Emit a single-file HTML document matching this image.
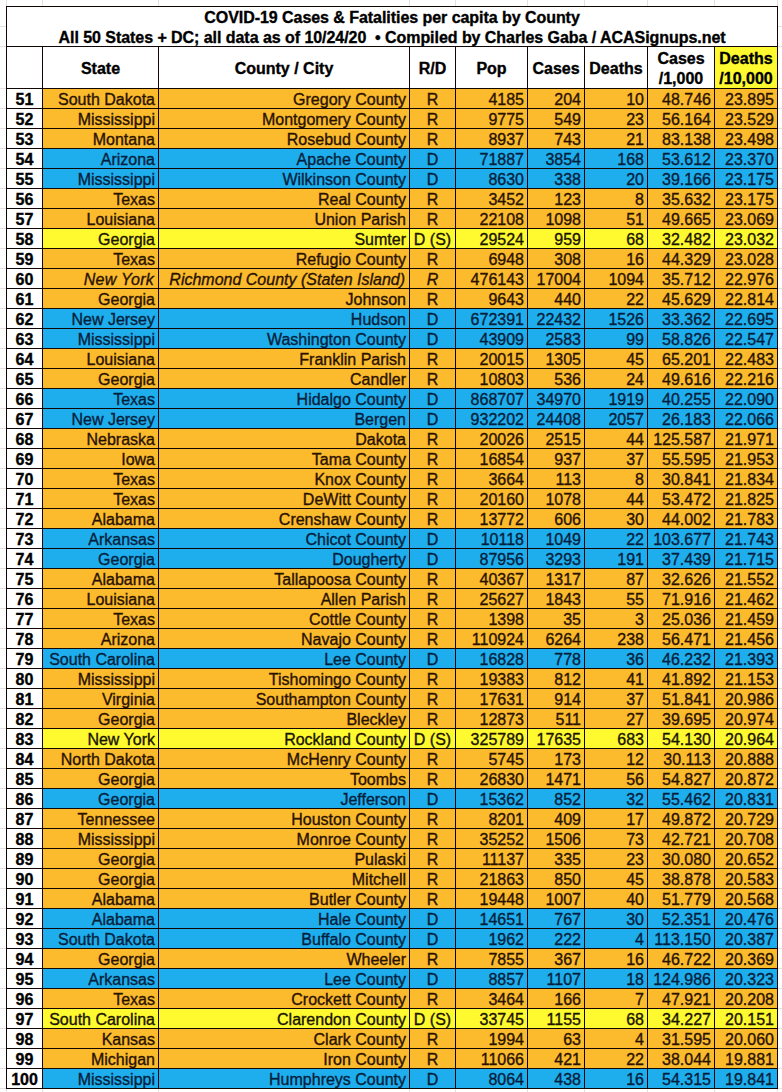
<!DOCTYPE html><html><head><meta charset="utf-8"><style>
html,body{margin:0;padding:0;}
body{width:782px;height:1092px;position:relative;overflow:hidden;background:#fff;font-family:"Liberation Sans",sans-serif;}
div{position:absolute;}
.g{background:#e2e2e2;}
.l{background:#120604;}
.t{height:20px;line-height:20px;white-space:nowrap;font-size:16px;letter-spacing:0px;-webkit-text-stroke:0.35px currentColor;}
.r{text-align:right;}.c{text-align:center;}
.b{font-weight:bold;font-size:16px;-webkit-text-stroke:0.35px currentColor;}
.i{font-style:italic;}
</style></head><body>
<div class="g" style="left:6px;top:0;width:1px;height:6px"></div>
<div class="g" style="left:6px;top:1089px;width:1px;height:3px"></div>
<div class="g" style="left:42px;top:0;width:1px;height:6px"></div>
<div class="g" style="left:42px;top:1089px;width:1px;height:3px"></div>
<div class="g" style="left:158px;top:0;width:1px;height:6px"></div>
<div class="g" style="left:158px;top:1089px;width:1px;height:3px"></div>
<div class="g" style="left:409px;top:0;width:1px;height:6px"></div>
<div class="g" style="left:409px;top:1089px;width:1px;height:3px"></div>
<div class="g" style="left:455px;top:0;width:1px;height:6px"></div>
<div class="g" style="left:455px;top:1089px;width:1px;height:3px"></div>
<div class="g" style="left:527px;top:0;width:1px;height:6px"></div>
<div class="g" style="left:527px;top:1089px;width:1px;height:3px"></div>
<div class="g" style="left:584px;top:0;width:1px;height:6px"></div>
<div class="g" style="left:584px;top:1089px;width:1px;height:3px"></div>
<div class="g" style="left:647px;top:0;width:1px;height:6px"></div>
<div class="g" style="left:647px;top:1089px;width:1px;height:3px"></div>
<div class="g" style="left:714px;top:0;width:1px;height:6px"></div>
<div class="g" style="left:714px;top:1089px;width:1px;height:3px"></div>
<div class="g" style="left:777px;top:0;width:1px;height:6px"></div>
<div class="g" style="left:777px;top:1089px;width:1px;height:3px"></div>
<div class="g" style="left:900px;top:0;width:1px;height:1092px"></div>
<div class="g" style="left:0;top:-10px;width:6px;height:1px"></div>
<div class="g" style="left:778px;top:-10px;width:4px;height:1px"></div>
<div class="g" style="left:0;top:26px;width:6px;height:1px"></div>
<div class="g" style="left:778px;top:26px;width:4px;height:1px"></div>
<div class="g" style="left:0;top:46px;width:6px;height:1px"></div>
<div class="g" style="left:778px;top:46px;width:4px;height:1px"></div>
<div class="g" style="left:0;top:88px;width:6px;height:1px"></div>
<div class="g" style="left:778px;top:88px;width:4px;height:1px"></div>
<div class="g" style="left:0;top:108px;width:6px;height:1px"></div>
<div class="g" style="left:778px;top:108px;width:4px;height:1px"></div>
<div class="g" style="left:0;top:128px;width:6px;height:1px"></div>
<div class="g" style="left:778px;top:128px;width:4px;height:1px"></div>
<div class="g" style="left:0;top:148px;width:6px;height:1px"></div>
<div class="g" style="left:778px;top:148px;width:4px;height:1px"></div>
<div class="g" style="left:0;top:168px;width:6px;height:1px"></div>
<div class="g" style="left:778px;top:168px;width:4px;height:1px"></div>
<div class="g" style="left:0;top:188px;width:6px;height:1px"></div>
<div class="g" style="left:778px;top:188px;width:4px;height:1px"></div>
<div class="g" style="left:0;top:208px;width:6px;height:1px"></div>
<div class="g" style="left:778px;top:208px;width:4px;height:1px"></div>
<div class="g" style="left:0;top:228px;width:6px;height:1px"></div>
<div class="g" style="left:778px;top:228px;width:4px;height:1px"></div>
<div class="g" style="left:0;top:248px;width:6px;height:1px"></div>
<div class="g" style="left:778px;top:248px;width:4px;height:1px"></div>
<div class="g" style="left:0;top:268px;width:6px;height:1px"></div>
<div class="g" style="left:778px;top:268px;width:4px;height:1px"></div>
<div class="g" style="left:0;top:288px;width:6px;height:1px"></div>
<div class="g" style="left:778px;top:288px;width:4px;height:1px"></div>
<div class="g" style="left:0;top:308px;width:6px;height:1px"></div>
<div class="g" style="left:778px;top:308px;width:4px;height:1px"></div>
<div class="g" style="left:0;top:328px;width:6px;height:1px"></div>
<div class="g" style="left:778px;top:328px;width:4px;height:1px"></div>
<div class="g" style="left:0;top:348px;width:6px;height:1px"></div>
<div class="g" style="left:778px;top:348px;width:4px;height:1px"></div>
<div class="g" style="left:0;top:368px;width:6px;height:1px"></div>
<div class="g" style="left:778px;top:368px;width:4px;height:1px"></div>
<div class="g" style="left:0;top:388px;width:6px;height:1px"></div>
<div class="g" style="left:778px;top:388px;width:4px;height:1px"></div>
<div class="g" style="left:0;top:408px;width:6px;height:1px"></div>
<div class="g" style="left:778px;top:408px;width:4px;height:1px"></div>
<div class="g" style="left:0;top:428px;width:6px;height:1px"></div>
<div class="g" style="left:778px;top:428px;width:4px;height:1px"></div>
<div class="g" style="left:0;top:448px;width:6px;height:1px"></div>
<div class="g" style="left:778px;top:448px;width:4px;height:1px"></div>
<div class="g" style="left:0;top:468px;width:6px;height:1px"></div>
<div class="g" style="left:778px;top:468px;width:4px;height:1px"></div>
<div class="g" style="left:0;top:488px;width:6px;height:1px"></div>
<div class="g" style="left:778px;top:488px;width:4px;height:1px"></div>
<div class="g" style="left:0;top:508px;width:6px;height:1px"></div>
<div class="g" style="left:778px;top:508px;width:4px;height:1px"></div>
<div class="g" style="left:0;top:528px;width:6px;height:1px"></div>
<div class="g" style="left:778px;top:528px;width:4px;height:1px"></div>
<div class="g" style="left:0;top:548px;width:6px;height:1px"></div>
<div class="g" style="left:778px;top:548px;width:4px;height:1px"></div>
<div class="g" style="left:0;top:568px;width:6px;height:1px"></div>
<div class="g" style="left:778px;top:568px;width:4px;height:1px"></div>
<div class="g" style="left:0;top:588px;width:6px;height:1px"></div>
<div class="g" style="left:778px;top:588px;width:4px;height:1px"></div>
<div class="g" style="left:0;top:608px;width:6px;height:1px"></div>
<div class="g" style="left:778px;top:608px;width:4px;height:1px"></div>
<div class="g" style="left:0;top:628px;width:6px;height:1px"></div>
<div class="g" style="left:778px;top:628px;width:4px;height:1px"></div>
<div class="g" style="left:0;top:648px;width:6px;height:1px"></div>
<div class="g" style="left:778px;top:648px;width:4px;height:1px"></div>
<div class="g" style="left:0;top:668px;width:6px;height:1px"></div>
<div class="g" style="left:778px;top:668px;width:4px;height:1px"></div>
<div class="g" style="left:0;top:688px;width:6px;height:1px"></div>
<div class="g" style="left:778px;top:688px;width:4px;height:1px"></div>
<div class="g" style="left:0;top:708px;width:6px;height:1px"></div>
<div class="g" style="left:778px;top:708px;width:4px;height:1px"></div>
<div class="g" style="left:0;top:728px;width:6px;height:1px"></div>
<div class="g" style="left:778px;top:728px;width:4px;height:1px"></div>
<div class="g" style="left:0;top:748px;width:6px;height:1px"></div>
<div class="g" style="left:778px;top:748px;width:4px;height:1px"></div>
<div class="g" style="left:0;top:768px;width:6px;height:1px"></div>
<div class="g" style="left:778px;top:768px;width:4px;height:1px"></div>
<div class="g" style="left:0;top:788px;width:6px;height:1px"></div>
<div class="g" style="left:778px;top:788px;width:4px;height:1px"></div>
<div class="g" style="left:0;top:808px;width:6px;height:1px"></div>
<div class="g" style="left:778px;top:808px;width:4px;height:1px"></div>
<div class="g" style="left:0;top:828px;width:6px;height:1px"></div>
<div class="g" style="left:778px;top:828px;width:4px;height:1px"></div>
<div class="g" style="left:0;top:848px;width:6px;height:1px"></div>
<div class="g" style="left:778px;top:848px;width:4px;height:1px"></div>
<div class="g" style="left:0;top:868px;width:6px;height:1px"></div>
<div class="g" style="left:778px;top:868px;width:4px;height:1px"></div>
<div class="g" style="left:0;top:888px;width:6px;height:1px"></div>
<div class="g" style="left:778px;top:888px;width:4px;height:1px"></div>
<div class="g" style="left:0;top:908px;width:6px;height:1px"></div>
<div class="g" style="left:778px;top:908px;width:4px;height:1px"></div>
<div class="g" style="left:0;top:928px;width:6px;height:1px"></div>
<div class="g" style="left:778px;top:928px;width:4px;height:1px"></div>
<div class="g" style="left:0;top:948px;width:6px;height:1px"></div>
<div class="g" style="left:778px;top:948px;width:4px;height:1px"></div>
<div class="g" style="left:0;top:968px;width:6px;height:1px"></div>
<div class="g" style="left:778px;top:968px;width:4px;height:1px"></div>
<div class="g" style="left:0;top:988px;width:6px;height:1px"></div>
<div class="g" style="left:778px;top:988px;width:4px;height:1px"></div>
<div class="g" style="left:0;top:1008px;width:6px;height:1px"></div>
<div class="g" style="left:778px;top:1008px;width:4px;height:1px"></div>
<div class="g" style="left:0;top:1028px;width:6px;height:1px"></div>
<div class="g" style="left:778px;top:1028px;width:4px;height:1px"></div>
<div class="g" style="left:0;top:1048px;width:6px;height:1px"></div>
<div class="g" style="left:778px;top:1048px;width:4px;height:1px"></div>
<div class="g" style="left:0;top:1068px;width:6px;height:1px"></div>
<div class="g" style="left:778px;top:1068px;width:4px;height:1px"></div>
<div class="g" style="left:0;top:1088px;width:6px;height:1px"></div>
<div class="g" style="left:778px;top:1088px;width:4px;height:1px"></div>
<div class="b" style="left:7px;top:8px;width:770px;text-align:center;line-height:20px;font-size:16px;letter-spacing:-0.05px;color:#000">COVID-19 Cases &amp; Fatalities per capita by County<br>All 50 States + DC; all data as of 10/24/20 &nbsp;• Compiled by Charles Gaba / ACASignups.net</div>
<div style="left:715px;top:47px;width:62px;height:41px;background:#fffa30"></div>
<div class="t b c" style="left:43px;top:59px;width:115px;color:#000">State</div>
<div class="t b c" style="left:159px;top:59px;width:250px;color:#000">County / City</div>
<div class="t b c" style="left:410px;top:59px;width:45px;color:#000">R/D</div>
<div class="t b c" style="left:456px;top:59px;width:71px;color:#000">Pop</div>
<div class="t b c" style="left:528px;top:59px;width:56px;color:#000">Cases</div>
<div class="t b c" style="left:585px;top:59px;width:62px;color:#000">Deaths</div>
<div class="t b c" style="left:648px;top:49px;width:66px;color:#000">Cases</div>
<div class="t b c" style="left:648px;top:69px;width:66px;color:#000">/1,000</div>
<div class="t b c" style="left:715px;top:49px;width:62px;color:#000">Deaths</div>
<div class="t b c" style="left:715px;top:69px;width:62px;color:#000">/10,000</div>
<div style="left:43px;top:89px;width:734px;height:19px;background:#fcbb2d"></div>
<div class="t b c" style="left:7px;top:90px;width:35px;color:#000">51</div>
<div class="t r" style="left:43px;top:90px;width:112px;color:#2a1200">South Dakota</div>
<div class="t r" style="left:159px;top:90px;width:247px;color:#2a1200">Gregory County</div>
<div class="t c" style="left:410px;top:90px;width:45px;color:#2a1200">R</div>
<div class="t r" style="left:456px;top:90px;width:68px;color:#2a1200">4185</div>
<div class="t r" style="left:528px;top:90px;width:53px;color:#2a1200">204</div>
<div class="t r" style="left:585px;top:90px;width:59px;color:#2a1200">10</div>
<div class="t r" style="left:648px;top:90px;width:63px;color:#2a1200">48.746</div>
<div class="t r" style="left:715px;top:90px;width:59px;color:#2a1200">23.895</div>
<div style="left:43px;top:109px;width:734px;height:19px;background:#fcbb2d"></div>
<div class="t b c" style="left:7px;top:110px;width:35px;color:#000">52</div>
<div class="t r" style="left:43px;top:110px;width:112px;color:#2a1200">Mississippi</div>
<div class="t r" style="left:159px;top:110px;width:247px;color:#2a1200">Montgomery County</div>
<div class="t c" style="left:410px;top:110px;width:45px;color:#2a1200">R</div>
<div class="t r" style="left:456px;top:110px;width:68px;color:#2a1200">9775</div>
<div class="t r" style="left:528px;top:110px;width:53px;color:#2a1200">549</div>
<div class="t r" style="left:585px;top:110px;width:59px;color:#2a1200">23</div>
<div class="t r" style="left:648px;top:110px;width:63px;color:#2a1200">56.164</div>
<div class="t r" style="left:715px;top:110px;width:59px;color:#2a1200">23.529</div>
<div style="left:43px;top:129px;width:734px;height:19px;background:#fcbb2d"></div>
<div class="t b c" style="left:7px;top:130px;width:35px;color:#000">53</div>
<div class="t r" style="left:43px;top:130px;width:112px;color:#2a1200">Montana</div>
<div class="t r" style="left:159px;top:130px;width:247px;color:#2a1200">Rosebud County</div>
<div class="t c" style="left:410px;top:130px;width:45px;color:#2a1200">R</div>
<div class="t r" style="left:456px;top:130px;width:68px;color:#2a1200">8937</div>
<div class="t r" style="left:528px;top:130px;width:53px;color:#2a1200">743</div>
<div class="t r" style="left:585px;top:130px;width:59px;color:#2a1200">21</div>
<div class="t r" style="left:648px;top:130px;width:63px;color:#2a1200">83.138</div>
<div class="t r" style="left:715px;top:130px;width:59px;color:#2a1200">23.498</div>
<div style="left:43px;top:149px;width:734px;height:19px;background:#1eaeee"></div>
<div class="t b c" style="left:7px;top:150px;width:35px;color:#000">54</div>
<div class="t r" style="left:43px;top:150px;width:112px;color:#041e3c">Arizona</div>
<div class="t r" style="left:159px;top:150px;width:247px;color:#041e3c">Apache County</div>
<div class="t c" style="left:410px;top:150px;width:45px;color:#041e3c">D</div>
<div class="t r" style="left:456px;top:150px;width:68px;color:#041e3c">71887</div>
<div class="t r" style="left:528px;top:150px;width:53px;color:#041e3c">3854</div>
<div class="t r" style="left:585px;top:150px;width:59px;color:#041e3c">168</div>
<div class="t r" style="left:648px;top:150px;width:63px;color:#041e3c">53.612</div>
<div class="t r" style="left:715px;top:150px;width:59px;color:#041e3c">23.370</div>
<div style="left:43px;top:169px;width:734px;height:19px;background:#1eaeee"></div>
<div class="t b c" style="left:7px;top:170px;width:35px;color:#000">55</div>
<div class="t r" style="left:43px;top:170px;width:112px;color:#041e3c">Mississippi</div>
<div class="t r" style="left:159px;top:170px;width:247px;color:#041e3c">Wilkinson County</div>
<div class="t c" style="left:410px;top:170px;width:45px;color:#041e3c">D</div>
<div class="t r" style="left:456px;top:170px;width:68px;color:#041e3c">8630</div>
<div class="t r" style="left:528px;top:170px;width:53px;color:#041e3c">338</div>
<div class="t r" style="left:585px;top:170px;width:59px;color:#041e3c">20</div>
<div class="t r" style="left:648px;top:170px;width:63px;color:#041e3c">39.166</div>
<div class="t r" style="left:715px;top:170px;width:59px;color:#041e3c">23.175</div>
<div style="left:43px;top:189px;width:734px;height:19px;background:#fcbb2d"></div>
<div class="t b c" style="left:7px;top:190px;width:35px;color:#000">56</div>
<div class="t r" style="left:43px;top:190px;width:112px;color:#2a1200">Texas</div>
<div class="t r" style="left:159px;top:190px;width:247px;color:#2a1200">Real County</div>
<div class="t c" style="left:410px;top:190px;width:45px;color:#2a1200">R</div>
<div class="t r" style="left:456px;top:190px;width:68px;color:#2a1200">3452</div>
<div class="t r" style="left:528px;top:190px;width:53px;color:#2a1200">123</div>
<div class="t r" style="left:585px;top:190px;width:59px;color:#2a1200">8</div>
<div class="t r" style="left:648px;top:190px;width:63px;color:#2a1200">35.632</div>
<div class="t r" style="left:715px;top:190px;width:59px;color:#2a1200">23.175</div>
<div style="left:43px;top:209px;width:734px;height:19px;background:#fcbb2d"></div>
<div class="t b c" style="left:7px;top:210px;width:35px;color:#000">57</div>
<div class="t r" style="left:43px;top:210px;width:112px;color:#2a1200">Louisiana</div>
<div class="t r" style="left:159px;top:210px;width:247px;color:#2a1200">Union Parish</div>
<div class="t c" style="left:410px;top:210px;width:45px;color:#2a1200">R</div>
<div class="t r" style="left:456px;top:210px;width:68px;color:#2a1200">22108</div>
<div class="t r" style="left:528px;top:210px;width:53px;color:#2a1200">1098</div>
<div class="t r" style="left:585px;top:210px;width:59px;color:#2a1200">51</div>
<div class="t r" style="left:648px;top:210px;width:63px;color:#2a1200">49.665</div>
<div class="t r" style="left:715px;top:210px;width:59px;color:#2a1200">23.069</div>
<div style="left:43px;top:229px;width:734px;height:19px;background:#fffa30"></div>
<div class="t b c" style="left:7px;top:230px;width:35px;color:#000">58</div>
<div class="t r" style="left:43px;top:230px;width:112px;color:#1a1400">Georgia</div>
<div class="t r" style="left:159px;top:230px;width:247px;color:#1a1400">Sumter</div>
<div class="t c" style="left:410px;top:230px;width:45px;color:#1a1400">D (S)</div>
<div class="t r" style="left:456px;top:230px;width:68px;color:#1a1400">29524</div>
<div class="t r" style="left:528px;top:230px;width:53px;color:#1a1400">959</div>
<div class="t r" style="left:585px;top:230px;width:59px;color:#1a1400">68</div>
<div class="t r" style="left:648px;top:230px;width:63px;color:#1a1400">32.482</div>
<div class="t r" style="left:715px;top:230px;width:59px;color:#1a1400">23.032</div>
<div style="left:43px;top:249px;width:734px;height:19px;background:#fcbb2d"></div>
<div class="t b c" style="left:7px;top:250px;width:35px;color:#000">59</div>
<div class="t r" style="left:43px;top:250px;width:112px;color:#2a1200">Texas</div>
<div class="t r" style="left:159px;top:250px;width:247px;color:#2a1200">Refugio County</div>
<div class="t c" style="left:410px;top:250px;width:45px;color:#2a1200">R</div>
<div class="t r" style="left:456px;top:250px;width:68px;color:#2a1200">6948</div>
<div class="t r" style="left:528px;top:250px;width:53px;color:#2a1200">308</div>
<div class="t r" style="left:585px;top:250px;width:59px;color:#2a1200">16</div>
<div class="t r" style="left:648px;top:250px;width:63px;color:#2a1200">44.329</div>
<div class="t r" style="left:715px;top:250px;width:59px;color:#2a1200">23.028</div>
<div style="left:43px;top:269px;width:734px;height:19px;background:#fcbb2d"></div>
<div class="t b c" style="left:7px;top:270px;width:35px;color:#000">60</div>
<div class="t r i" style="left:43px;top:270px;width:111px;color:#2a1200;letter-spacing:0.25px">New York</div>
<div class="t r i" style="left:159px;top:270px;width:246px;color:#2a1200">Richmond County (Staten Island)</div>
<div class="t c i" style="left:410px;top:270px;width:45px;color:#2a1200">R</div>
<div class="t r" style="left:456px;top:270px;width:68px;color:#2a1200">476143</div>
<div class="t r" style="left:528px;top:270px;width:53px;color:#2a1200">17004</div>
<div class="t r" style="left:585px;top:270px;width:59px;color:#2a1200">1094</div>
<div class="t r" style="left:648px;top:270px;width:63px;color:#2a1200">35.712</div>
<div class="t r" style="left:715px;top:270px;width:59px;color:#2a1200">22.976</div>
<div style="left:43px;top:289px;width:734px;height:19px;background:#fcbb2d"></div>
<div class="t b c" style="left:7px;top:290px;width:35px;color:#000">61</div>
<div class="t r" style="left:43px;top:290px;width:112px;color:#2a1200">Georgia</div>
<div class="t r" style="left:159px;top:290px;width:247px;color:#2a1200">Johnson</div>
<div class="t c" style="left:410px;top:290px;width:45px;color:#2a1200">R</div>
<div class="t r" style="left:456px;top:290px;width:68px;color:#2a1200">9643</div>
<div class="t r" style="left:528px;top:290px;width:53px;color:#2a1200">440</div>
<div class="t r" style="left:585px;top:290px;width:59px;color:#2a1200">22</div>
<div class="t r" style="left:648px;top:290px;width:63px;color:#2a1200">45.629</div>
<div class="t r" style="left:715px;top:290px;width:59px;color:#2a1200">22.814</div>
<div style="left:43px;top:309px;width:734px;height:19px;background:#1eaeee"></div>
<div class="t b c" style="left:7px;top:310px;width:35px;color:#000">62</div>
<div class="t r" style="left:43px;top:310px;width:112px;color:#041e3c">New Jersey</div>
<div class="t r" style="left:159px;top:310px;width:247px;color:#041e3c">Hudson</div>
<div class="t c" style="left:410px;top:310px;width:45px;color:#041e3c">D</div>
<div class="t r" style="left:456px;top:310px;width:68px;color:#041e3c">672391</div>
<div class="t r" style="left:528px;top:310px;width:53px;color:#041e3c">22432</div>
<div class="t r" style="left:585px;top:310px;width:59px;color:#041e3c">1526</div>
<div class="t r" style="left:648px;top:310px;width:63px;color:#041e3c">33.362</div>
<div class="t r" style="left:715px;top:310px;width:59px;color:#041e3c">22.695</div>
<div style="left:43px;top:329px;width:734px;height:19px;background:#1eaeee"></div>
<div class="t b c" style="left:7px;top:330px;width:35px;color:#000">63</div>
<div class="t r" style="left:43px;top:330px;width:112px;color:#041e3c">Mississippi</div>
<div class="t r" style="left:159px;top:330px;width:247px;color:#041e3c">Washington County</div>
<div class="t c" style="left:410px;top:330px;width:45px;color:#041e3c">D</div>
<div class="t r" style="left:456px;top:330px;width:68px;color:#041e3c">43909</div>
<div class="t r" style="left:528px;top:330px;width:53px;color:#041e3c">2583</div>
<div class="t r" style="left:585px;top:330px;width:59px;color:#041e3c">99</div>
<div class="t r" style="left:648px;top:330px;width:63px;color:#041e3c">58.826</div>
<div class="t r" style="left:715px;top:330px;width:59px;color:#041e3c">22.547</div>
<div style="left:43px;top:349px;width:734px;height:19px;background:#fcbb2d"></div>
<div class="t b c" style="left:7px;top:350px;width:35px;color:#000">64</div>
<div class="t r" style="left:43px;top:350px;width:112px;color:#2a1200">Louisiana</div>
<div class="t r" style="left:159px;top:350px;width:247px;color:#2a1200">Franklin Parish</div>
<div class="t c" style="left:410px;top:350px;width:45px;color:#2a1200">R</div>
<div class="t r" style="left:456px;top:350px;width:68px;color:#2a1200">20015</div>
<div class="t r" style="left:528px;top:350px;width:53px;color:#2a1200">1305</div>
<div class="t r" style="left:585px;top:350px;width:59px;color:#2a1200">45</div>
<div class="t r" style="left:648px;top:350px;width:63px;color:#2a1200">65.201</div>
<div class="t r" style="left:715px;top:350px;width:59px;color:#2a1200">22.483</div>
<div style="left:43px;top:369px;width:734px;height:19px;background:#fcbb2d"></div>
<div class="t b c" style="left:7px;top:370px;width:35px;color:#000">65</div>
<div class="t r" style="left:43px;top:370px;width:112px;color:#2a1200">Georgia</div>
<div class="t r" style="left:159px;top:370px;width:247px;color:#2a1200">Candler</div>
<div class="t c" style="left:410px;top:370px;width:45px;color:#2a1200">R</div>
<div class="t r" style="left:456px;top:370px;width:68px;color:#2a1200">10803</div>
<div class="t r" style="left:528px;top:370px;width:53px;color:#2a1200">536</div>
<div class="t r" style="left:585px;top:370px;width:59px;color:#2a1200">24</div>
<div class="t r" style="left:648px;top:370px;width:63px;color:#2a1200">49.616</div>
<div class="t r" style="left:715px;top:370px;width:59px;color:#2a1200">22.216</div>
<div style="left:43px;top:389px;width:734px;height:19px;background:#1eaeee"></div>
<div class="t b c" style="left:7px;top:390px;width:35px;color:#000">66</div>
<div class="t r" style="left:43px;top:390px;width:112px;color:#041e3c">Texas</div>
<div class="t r" style="left:159px;top:390px;width:247px;color:#041e3c">Hidalgo County</div>
<div class="t c" style="left:410px;top:390px;width:45px;color:#041e3c">D</div>
<div class="t r" style="left:456px;top:390px;width:68px;color:#041e3c">868707</div>
<div class="t r" style="left:528px;top:390px;width:53px;color:#041e3c">34970</div>
<div class="t r" style="left:585px;top:390px;width:59px;color:#041e3c">1919</div>
<div class="t r" style="left:648px;top:390px;width:63px;color:#041e3c">40.255</div>
<div class="t r" style="left:715px;top:390px;width:59px;color:#041e3c">22.090</div>
<div style="left:43px;top:409px;width:734px;height:19px;background:#1eaeee"></div>
<div class="t b c" style="left:7px;top:410px;width:35px;color:#000">67</div>
<div class="t r" style="left:43px;top:410px;width:112px;color:#041e3c">New Jersey</div>
<div class="t r" style="left:159px;top:410px;width:247px;color:#041e3c">Bergen</div>
<div class="t c" style="left:410px;top:410px;width:45px;color:#041e3c">D</div>
<div class="t r" style="left:456px;top:410px;width:68px;color:#041e3c">932202</div>
<div class="t r" style="left:528px;top:410px;width:53px;color:#041e3c">24408</div>
<div class="t r" style="left:585px;top:410px;width:59px;color:#041e3c">2057</div>
<div class="t r" style="left:648px;top:410px;width:63px;color:#041e3c">26.183</div>
<div class="t r" style="left:715px;top:410px;width:59px;color:#041e3c">22.066</div>
<div style="left:43px;top:429px;width:734px;height:19px;background:#fcbb2d"></div>
<div class="t b c" style="left:7px;top:430px;width:35px;color:#000">68</div>
<div class="t r" style="left:43px;top:430px;width:112px;color:#2a1200">Nebraska</div>
<div class="t r" style="left:159px;top:430px;width:247px;color:#2a1200">Dakota</div>
<div class="t c" style="left:410px;top:430px;width:45px;color:#2a1200">R</div>
<div class="t r" style="left:456px;top:430px;width:68px;color:#2a1200">20026</div>
<div class="t r" style="left:528px;top:430px;width:53px;color:#2a1200">2515</div>
<div class="t r" style="left:585px;top:430px;width:59px;color:#2a1200">44</div>
<div class="t r" style="left:648px;top:430px;width:63px;color:#2a1200">125.587</div>
<div class="t r" style="left:715px;top:430px;width:59px;color:#2a1200">21.971</div>
<div style="left:43px;top:449px;width:734px;height:19px;background:#fcbb2d"></div>
<div class="t b c" style="left:7px;top:450px;width:35px;color:#000">69</div>
<div class="t r" style="left:43px;top:450px;width:112px;color:#2a1200">Iowa</div>
<div class="t r" style="left:159px;top:450px;width:247px;color:#2a1200">Tama County</div>
<div class="t c" style="left:410px;top:450px;width:45px;color:#2a1200">R</div>
<div class="t r" style="left:456px;top:450px;width:68px;color:#2a1200">16854</div>
<div class="t r" style="left:528px;top:450px;width:53px;color:#2a1200">937</div>
<div class="t r" style="left:585px;top:450px;width:59px;color:#2a1200">37</div>
<div class="t r" style="left:648px;top:450px;width:63px;color:#2a1200">55.595</div>
<div class="t r" style="left:715px;top:450px;width:59px;color:#2a1200">21.953</div>
<div style="left:43px;top:469px;width:734px;height:19px;background:#fcbb2d"></div>
<div class="t b c" style="left:7px;top:470px;width:35px;color:#000">70</div>
<div class="t r" style="left:43px;top:470px;width:112px;color:#2a1200">Texas</div>
<div class="t r" style="left:159px;top:470px;width:247px;color:#2a1200">Knox County</div>
<div class="t c" style="left:410px;top:470px;width:45px;color:#2a1200">R</div>
<div class="t r" style="left:456px;top:470px;width:68px;color:#2a1200">3664</div>
<div class="t r" style="left:528px;top:470px;width:53px;color:#2a1200">113</div>
<div class="t r" style="left:585px;top:470px;width:59px;color:#2a1200">8</div>
<div class="t r" style="left:648px;top:470px;width:63px;color:#2a1200">30.841</div>
<div class="t r" style="left:715px;top:470px;width:59px;color:#2a1200">21.834</div>
<div style="left:43px;top:489px;width:734px;height:19px;background:#fcbb2d"></div>
<div class="t b c" style="left:7px;top:490px;width:35px;color:#000">71</div>
<div class="t r" style="left:43px;top:490px;width:112px;color:#2a1200">Texas</div>
<div class="t r" style="left:159px;top:490px;width:247px;color:#2a1200">DeWitt County</div>
<div class="t c" style="left:410px;top:490px;width:45px;color:#2a1200">R</div>
<div class="t r" style="left:456px;top:490px;width:68px;color:#2a1200">20160</div>
<div class="t r" style="left:528px;top:490px;width:53px;color:#2a1200">1078</div>
<div class="t r" style="left:585px;top:490px;width:59px;color:#2a1200">44</div>
<div class="t r" style="left:648px;top:490px;width:63px;color:#2a1200">53.472</div>
<div class="t r" style="left:715px;top:490px;width:59px;color:#2a1200">21.825</div>
<div style="left:43px;top:509px;width:734px;height:19px;background:#fcbb2d"></div>
<div class="t b c" style="left:7px;top:510px;width:35px;color:#000">72</div>
<div class="t r" style="left:43px;top:510px;width:112px;color:#2a1200">Alabama</div>
<div class="t r" style="left:159px;top:510px;width:247px;color:#2a1200">Crenshaw County</div>
<div class="t c" style="left:410px;top:510px;width:45px;color:#2a1200">R</div>
<div class="t r" style="left:456px;top:510px;width:68px;color:#2a1200">13772</div>
<div class="t r" style="left:528px;top:510px;width:53px;color:#2a1200">606</div>
<div class="t r" style="left:585px;top:510px;width:59px;color:#2a1200">30</div>
<div class="t r" style="left:648px;top:510px;width:63px;color:#2a1200">44.002</div>
<div class="t r" style="left:715px;top:510px;width:59px;color:#2a1200">21.783</div>
<div style="left:43px;top:529px;width:734px;height:19px;background:#1eaeee"></div>
<div class="t b c" style="left:7px;top:530px;width:35px;color:#000">73</div>
<div class="t r" style="left:43px;top:530px;width:112px;color:#041e3c">Arkansas</div>
<div class="t r" style="left:159px;top:530px;width:247px;color:#041e3c">Chicot County</div>
<div class="t c" style="left:410px;top:530px;width:45px;color:#041e3c">D</div>
<div class="t r" style="left:456px;top:530px;width:68px;color:#041e3c">10118</div>
<div class="t r" style="left:528px;top:530px;width:53px;color:#041e3c">1049</div>
<div class="t r" style="left:585px;top:530px;width:59px;color:#041e3c">22</div>
<div class="t r" style="left:648px;top:530px;width:63px;color:#041e3c">103.677</div>
<div class="t r" style="left:715px;top:530px;width:59px;color:#041e3c">21.743</div>
<div style="left:43px;top:549px;width:734px;height:19px;background:#1eaeee"></div>
<div class="t b c" style="left:7px;top:550px;width:35px;color:#000">74</div>
<div class="t r" style="left:43px;top:550px;width:112px;color:#041e3c">Georgia</div>
<div class="t r" style="left:159px;top:550px;width:247px;color:#041e3c">Dougherty</div>
<div class="t c" style="left:410px;top:550px;width:45px;color:#041e3c">D</div>
<div class="t r" style="left:456px;top:550px;width:68px;color:#041e3c">87956</div>
<div class="t r" style="left:528px;top:550px;width:53px;color:#041e3c">3293</div>
<div class="t r" style="left:585px;top:550px;width:59px;color:#041e3c">191</div>
<div class="t r" style="left:648px;top:550px;width:63px;color:#041e3c">37.439</div>
<div class="t r" style="left:715px;top:550px;width:59px;color:#041e3c">21.715</div>
<div style="left:43px;top:569px;width:734px;height:19px;background:#fcbb2d"></div>
<div class="t b c" style="left:7px;top:570px;width:35px;color:#000">75</div>
<div class="t r" style="left:43px;top:570px;width:112px;color:#2a1200">Alabama</div>
<div class="t r" style="left:159px;top:570px;width:247px;color:#2a1200">Tallapoosa County</div>
<div class="t c" style="left:410px;top:570px;width:45px;color:#2a1200">R</div>
<div class="t r" style="left:456px;top:570px;width:68px;color:#2a1200">40367</div>
<div class="t r" style="left:528px;top:570px;width:53px;color:#2a1200">1317</div>
<div class="t r" style="left:585px;top:570px;width:59px;color:#2a1200">87</div>
<div class="t r" style="left:648px;top:570px;width:63px;color:#2a1200">32.626</div>
<div class="t r" style="left:715px;top:570px;width:59px;color:#2a1200">21.552</div>
<div style="left:43px;top:589px;width:734px;height:19px;background:#fcbb2d"></div>
<div class="t b c" style="left:7px;top:590px;width:35px;color:#000">76</div>
<div class="t r" style="left:43px;top:590px;width:112px;color:#2a1200">Louisiana</div>
<div class="t r" style="left:159px;top:590px;width:247px;color:#2a1200">Allen Parish</div>
<div class="t c" style="left:410px;top:590px;width:45px;color:#2a1200">R</div>
<div class="t r" style="left:456px;top:590px;width:68px;color:#2a1200">25627</div>
<div class="t r" style="left:528px;top:590px;width:53px;color:#2a1200">1843</div>
<div class="t r" style="left:585px;top:590px;width:59px;color:#2a1200">55</div>
<div class="t r" style="left:648px;top:590px;width:63px;color:#2a1200">71.916</div>
<div class="t r" style="left:715px;top:590px;width:59px;color:#2a1200">21.462</div>
<div style="left:43px;top:609px;width:734px;height:19px;background:#fcbb2d"></div>
<div class="t b c" style="left:7px;top:610px;width:35px;color:#000">77</div>
<div class="t r" style="left:43px;top:610px;width:112px;color:#2a1200">Texas</div>
<div class="t r" style="left:159px;top:610px;width:247px;color:#2a1200">Cottle County</div>
<div class="t c" style="left:410px;top:610px;width:45px;color:#2a1200">R</div>
<div class="t r" style="left:456px;top:610px;width:68px;color:#2a1200">1398</div>
<div class="t r" style="left:528px;top:610px;width:53px;color:#2a1200">35</div>
<div class="t r" style="left:585px;top:610px;width:59px;color:#2a1200">3</div>
<div class="t r" style="left:648px;top:610px;width:63px;color:#2a1200">25.036</div>
<div class="t r" style="left:715px;top:610px;width:59px;color:#2a1200">21.459</div>
<div style="left:43px;top:629px;width:734px;height:19px;background:#fcbb2d"></div>
<div class="t b c" style="left:7px;top:630px;width:35px;color:#000">78</div>
<div class="t r" style="left:43px;top:630px;width:112px;color:#2a1200">Arizona</div>
<div class="t r" style="left:159px;top:630px;width:247px;color:#2a1200">Navajo County</div>
<div class="t c" style="left:410px;top:630px;width:45px;color:#2a1200">R</div>
<div class="t r" style="left:456px;top:630px;width:68px;color:#2a1200">110924</div>
<div class="t r" style="left:528px;top:630px;width:53px;color:#2a1200">6264</div>
<div class="t r" style="left:585px;top:630px;width:59px;color:#2a1200">238</div>
<div class="t r" style="left:648px;top:630px;width:63px;color:#2a1200">56.471</div>
<div class="t r" style="left:715px;top:630px;width:59px;color:#2a1200">21.456</div>
<div style="left:43px;top:649px;width:734px;height:19px;background:#1eaeee"></div>
<div class="t b c" style="left:7px;top:650px;width:35px;color:#000">79</div>
<div class="t r" style="left:43px;top:650px;width:112px;color:#041e3c">South Carolina</div>
<div class="t r" style="left:159px;top:650px;width:247px;color:#041e3c">Lee County</div>
<div class="t c" style="left:410px;top:650px;width:45px;color:#041e3c">D</div>
<div class="t r" style="left:456px;top:650px;width:68px;color:#041e3c">16828</div>
<div class="t r" style="left:528px;top:650px;width:53px;color:#041e3c">778</div>
<div class="t r" style="left:585px;top:650px;width:59px;color:#041e3c">36</div>
<div class="t r" style="left:648px;top:650px;width:63px;color:#041e3c">46.232</div>
<div class="t r" style="left:715px;top:650px;width:59px;color:#041e3c">21.393</div>
<div style="left:43px;top:669px;width:734px;height:19px;background:#fcbb2d"></div>
<div class="t b c" style="left:7px;top:670px;width:35px;color:#000">80</div>
<div class="t r" style="left:43px;top:670px;width:112px;color:#2a1200">Mississippi</div>
<div class="t r" style="left:159px;top:670px;width:247px;color:#2a1200">Tishomingo County</div>
<div class="t c" style="left:410px;top:670px;width:45px;color:#2a1200">R</div>
<div class="t r" style="left:456px;top:670px;width:68px;color:#2a1200">19383</div>
<div class="t r" style="left:528px;top:670px;width:53px;color:#2a1200">812</div>
<div class="t r" style="left:585px;top:670px;width:59px;color:#2a1200">41</div>
<div class="t r" style="left:648px;top:670px;width:63px;color:#2a1200">41.892</div>
<div class="t r" style="left:715px;top:670px;width:59px;color:#2a1200">21.153</div>
<div style="left:43px;top:689px;width:734px;height:19px;background:#fcbb2d"></div>
<div class="t b c" style="left:7px;top:690px;width:35px;color:#000">81</div>
<div class="t r" style="left:43px;top:690px;width:112px;color:#2a1200">Virginia</div>
<div class="t r" style="left:159px;top:690px;width:247px;color:#2a1200">Southampton County</div>
<div class="t c" style="left:410px;top:690px;width:45px;color:#2a1200">R</div>
<div class="t r" style="left:456px;top:690px;width:68px;color:#2a1200">17631</div>
<div class="t r" style="left:528px;top:690px;width:53px;color:#2a1200">914</div>
<div class="t r" style="left:585px;top:690px;width:59px;color:#2a1200">37</div>
<div class="t r" style="left:648px;top:690px;width:63px;color:#2a1200">51.841</div>
<div class="t r" style="left:715px;top:690px;width:59px;color:#2a1200">20.986</div>
<div style="left:43px;top:709px;width:734px;height:19px;background:#fcbb2d"></div>
<div class="t b c" style="left:7px;top:710px;width:35px;color:#000">82</div>
<div class="t r" style="left:43px;top:710px;width:112px;color:#2a1200">Georgia</div>
<div class="t r" style="left:159px;top:710px;width:247px;color:#2a1200">Bleckley</div>
<div class="t c" style="left:410px;top:710px;width:45px;color:#2a1200">R</div>
<div class="t r" style="left:456px;top:710px;width:68px;color:#2a1200">12873</div>
<div class="t r" style="left:528px;top:710px;width:53px;color:#2a1200">511</div>
<div class="t r" style="left:585px;top:710px;width:59px;color:#2a1200">27</div>
<div class="t r" style="left:648px;top:710px;width:63px;color:#2a1200">39.695</div>
<div class="t r" style="left:715px;top:710px;width:59px;color:#2a1200">20.974</div>
<div style="left:43px;top:729px;width:734px;height:19px;background:#fffa30"></div>
<div class="t b c" style="left:7px;top:730px;width:35px;color:#000">83</div>
<div class="t r" style="left:43px;top:730px;width:112px;color:#1a1400">New York</div>
<div class="t r" style="left:159px;top:730px;width:247px;color:#1a1400">Rockland County</div>
<div class="t c" style="left:410px;top:730px;width:45px;color:#1a1400">D (S)</div>
<div class="t r" style="left:456px;top:730px;width:68px;color:#1a1400">325789</div>
<div class="t r" style="left:528px;top:730px;width:53px;color:#1a1400">17635</div>
<div class="t r" style="left:585px;top:730px;width:59px;color:#1a1400">683</div>
<div class="t r" style="left:648px;top:730px;width:63px;color:#1a1400">54.130</div>
<div class="t r" style="left:715px;top:730px;width:59px;color:#1a1400">20.964</div>
<div style="left:43px;top:749px;width:734px;height:19px;background:#fcbb2d"></div>
<div class="t b c" style="left:7px;top:750px;width:35px;color:#000">84</div>
<div class="t r" style="left:43px;top:750px;width:112px;color:#2a1200">North Dakota</div>
<div class="t r" style="left:159px;top:750px;width:247px;color:#2a1200">McHenry County</div>
<div class="t c" style="left:410px;top:750px;width:45px;color:#2a1200">R</div>
<div class="t r" style="left:456px;top:750px;width:68px;color:#2a1200">5745</div>
<div class="t r" style="left:528px;top:750px;width:53px;color:#2a1200">173</div>
<div class="t r" style="left:585px;top:750px;width:59px;color:#2a1200">12</div>
<div class="t r" style="left:648px;top:750px;width:63px;color:#2a1200">30.113</div>
<div class="t r" style="left:715px;top:750px;width:59px;color:#2a1200">20.888</div>
<div style="left:43px;top:769px;width:734px;height:19px;background:#fcbb2d"></div>
<div class="t b c" style="left:7px;top:770px;width:35px;color:#000">85</div>
<div class="t r" style="left:43px;top:770px;width:112px;color:#2a1200">Georgia</div>
<div class="t r" style="left:159px;top:770px;width:247px;color:#2a1200">Toombs</div>
<div class="t c" style="left:410px;top:770px;width:45px;color:#2a1200">R</div>
<div class="t r" style="left:456px;top:770px;width:68px;color:#2a1200">26830</div>
<div class="t r" style="left:528px;top:770px;width:53px;color:#2a1200">1471</div>
<div class="t r" style="left:585px;top:770px;width:59px;color:#2a1200">56</div>
<div class="t r" style="left:648px;top:770px;width:63px;color:#2a1200">54.827</div>
<div class="t r" style="left:715px;top:770px;width:59px;color:#2a1200">20.872</div>
<div style="left:43px;top:789px;width:734px;height:19px;background:#1eaeee"></div>
<div class="t b c" style="left:7px;top:790px;width:35px;color:#000">86</div>
<div class="t r" style="left:43px;top:790px;width:112px;color:#041e3c">Georgia</div>
<div class="t r" style="left:159px;top:790px;width:247px;color:#041e3c">Jefferson</div>
<div class="t c" style="left:410px;top:790px;width:45px;color:#041e3c">D</div>
<div class="t r" style="left:456px;top:790px;width:68px;color:#041e3c">15362</div>
<div class="t r" style="left:528px;top:790px;width:53px;color:#041e3c">852</div>
<div class="t r" style="left:585px;top:790px;width:59px;color:#041e3c">32</div>
<div class="t r" style="left:648px;top:790px;width:63px;color:#041e3c">55.462</div>
<div class="t r" style="left:715px;top:790px;width:59px;color:#041e3c">20.831</div>
<div style="left:43px;top:809px;width:734px;height:19px;background:#fcbb2d"></div>
<div class="t b c" style="left:7px;top:810px;width:35px;color:#000">87</div>
<div class="t r" style="left:43px;top:810px;width:112px;color:#2a1200">Tennessee</div>
<div class="t r" style="left:159px;top:810px;width:247px;color:#2a1200">Houston County</div>
<div class="t c" style="left:410px;top:810px;width:45px;color:#2a1200">R</div>
<div class="t r" style="left:456px;top:810px;width:68px;color:#2a1200">8201</div>
<div class="t r" style="left:528px;top:810px;width:53px;color:#2a1200">409</div>
<div class="t r" style="left:585px;top:810px;width:59px;color:#2a1200">17</div>
<div class="t r" style="left:648px;top:810px;width:63px;color:#2a1200">49.872</div>
<div class="t r" style="left:715px;top:810px;width:59px;color:#2a1200">20.729</div>
<div style="left:43px;top:829px;width:734px;height:19px;background:#fcbb2d"></div>
<div class="t b c" style="left:7px;top:830px;width:35px;color:#000">88</div>
<div class="t r" style="left:43px;top:830px;width:112px;color:#2a1200">Mississippi</div>
<div class="t r" style="left:159px;top:830px;width:247px;color:#2a1200">Monroe County</div>
<div class="t c" style="left:410px;top:830px;width:45px;color:#2a1200">R</div>
<div class="t r" style="left:456px;top:830px;width:68px;color:#2a1200">35252</div>
<div class="t r" style="left:528px;top:830px;width:53px;color:#2a1200">1506</div>
<div class="t r" style="left:585px;top:830px;width:59px;color:#2a1200">73</div>
<div class="t r" style="left:648px;top:830px;width:63px;color:#2a1200">42.721</div>
<div class="t r" style="left:715px;top:830px;width:59px;color:#2a1200">20.708</div>
<div style="left:43px;top:849px;width:734px;height:19px;background:#fcbb2d"></div>
<div class="t b c" style="left:7px;top:850px;width:35px;color:#000">89</div>
<div class="t r" style="left:43px;top:850px;width:112px;color:#2a1200">Georgia</div>
<div class="t r" style="left:159px;top:850px;width:247px;color:#2a1200">Pulaski</div>
<div class="t c" style="left:410px;top:850px;width:45px;color:#2a1200">R</div>
<div class="t r" style="left:456px;top:850px;width:68px;color:#2a1200">11137</div>
<div class="t r" style="left:528px;top:850px;width:53px;color:#2a1200">335</div>
<div class="t r" style="left:585px;top:850px;width:59px;color:#2a1200">23</div>
<div class="t r" style="left:648px;top:850px;width:63px;color:#2a1200">30.080</div>
<div class="t r" style="left:715px;top:850px;width:59px;color:#2a1200">20.652</div>
<div style="left:43px;top:869px;width:734px;height:19px;background:#fcbb2d"></div>
<div class="t b c" style="left:7px;top:870px;width:35px;color:#000">90</div>
<div class="t r" style="left:43px;top:870px;width:112px;color:#2a1200">Georgia</div>
<div class="t r" style="left:159px;top:870px;width:247px;color:#2a1200">Mitchell</div>
<div class="t c" style="left:410px;top:870px;width:45px;color:#2a1200">R</div>
<div class="t r" style="left:456px;top:870px;width:68px;color:#2a1200">21863</div>
<div class="t r" style="left:528px;top:870px;width:53px;color:#2a1200">850</div>
<div class="t r" style="left:585px;top:870px;width:59px;color:#2a1200">45</div>
<div class="t r" style="left:648px;top:870px;width:63px;color:#2a1200">38.878</div>
<div class="t r" style="left:715px;top:870px;width:59px;color:#2a1200">20.583</div>
<div style="left:43px;top:889px;width:734px;height:19px;background:#fcbb2d"></div>
<div class="t b c" style="left:7px;top:890px;width:35px;color:#000">91</div>
<div class="t r" style="left:43px;top:890px;width:112px;color:#2a1200">Alabama</div>
<div class="t r" style="left:159px;top:890px;width:247px;color:#2a1200">Butler County</div>
<div class="t c" style="left:410px;top:890px;width:45px;color:#2a1200">R</div>
<div class="t r" style="left:456px;top:890px;width:68px;color:#2a1200">19448</div>
<div class="t r" style="left:528px;top:890px;width:53px;color:#2a1200">1007</div>
<div class="t r" style="left:585px;top:890px;width:59px;color:#2a1200">40</div>
<div class="t r" style="left:648px;top:890px;width:63px;color:#2a1200">51.779</div>
<div class="t r" style="left:715px;top:890px;width:59px;color:#2a1200">20.568</div>
<div style="left:43px;top:909px;width:734px;height:19px;background:#1eaeee"></div>
<div class="t b c" style="left:7px;top:910px;width:35px;color:#000">92</div>
<div class="t r" style="left:43px;top:910px;width:112px;color:#041e3c">Alabama</div>
<div class="t r" style="left:159px;top:910px;width:247px;color:#041e3c">Hale County</div>
<div class="t c" style="left:410px;top:910px;width:45px;color:#041e3c">D</div>
<div class="t r" style="left:456px;top:910px;width:68px;color:#041e3c">14651</div>
<div class="t r" style="left:528px;top:910px;width:53px;color:#041e3c">767</div>
<div class="t r" style="left:585px;top:910px;width:59px;color:#041e3c">30</div>
<div class="t r" style="left:648px;top:910px;width:63px;color:#041e3c">52.351</div>
<div class="t r" style="left:715px;top:910px;width:59px;color:#041e3c">20.476</div>
<div style="left:43px;top:929px;width:734px;height:19px;background:#1eaeee"></div>
<div class="t b c" style="left:7px;top:930px;width:35px;color:#000">93</div>
<div class="t r" style="left:43px;top:930px;width:112px;color:#041e3c">South Dakota</div>
<div class="t r" style="left:159px;top:930px;width:247px;color:#041e3c">Buffalo County</div>
<div class="t c" style="left:410px;top:930px;width:45px;color:#041e3c">D</div>
<div class="t r" style="left:456px;top:930px;width:68px;color:#041e3c">1962</div>
<div class="t r" style="left:528px;top:930px;width:53px;color:#041e3c">222</div>
<div class="t r" style="left:585px;top:930px;width:59px;color:#041e3c">4</div>
<div class="t r" style="left:648px;top:930px;width:63px;color:#041e3c">113.150</div>
<div class="t r" style="left:715px;top:930px;width:59px;color:#041e3c">20.387</div>
<div style="left:43px;top:949px;width:734px;height:19px;background:#fcbb2d"></div>
<div class="t b c" style="left:7px;top:950px;width:35px;color:#000">94</div>
<div class="t r" style="left:43px;top:950px;width:112px;color:#2a1200">Georgia</div>
<div class="t r" style="left:159px;top:950px;width:247px;color:#2a1200">Wheeler</div>
<div class="t c" style="left:410px;top:950px;width:45px;color:#2a1200">R</div>
<div class="t r" style="left:456px;top:950px;width:68px;color:#2a1200">7855</div>
<div class="t r" style="left:528px;top:950px;width:53px;color:#2a1200">367</div>
<div class="t r" style="left:585px;top:950px;width:59px;color:#2a1200">16</div>
<div class="t r" style="left:648px;top:950px;width:63px;color:#2a1200">46.722</div>
<div class="t r" style="left:715px;top:950px;width:59px;color:#2a1200">20.369</div>
<div style="left:43px;top:969px;width:734px;height:19px;background:#1eaeee"></div>
<div class="t b c" style="left:7px;top:970px;width:35px;color:#000">95</div>
<div class="t r" style="left:43px;top:970px;width:112px;color:#041e3c">Arkansas</div>
<div class="t r" style="left:159px;top:970px;width:247px;color:#041e3c">Lee County</div>
<div class="t c" style="left:410px;top:970px;width:45px;color:#041e3c">D</div>
<div class="t r" style="left:456px;top:970px;width:68px;color:#041e3c">8857</div>
<div class="t r" style="left:528px;top:970px;width:53px;color:#041e3c">1107</div>
<div class="t r" style="left:585px;top:970px;width:59px;color:#041e3c">18</div>
<div class="t r" style="left:648px;top:970px;width:63px;color:#041e3c">124.986</div>
<div class="t r" style="left:715px;top:970px;width:59px;color:#041e3c">20.323</div>
<div style="left:43px;top:989px;width:734px;height:19px;background:#fcbb2d"></div>
<div class="t b c" style="left:7px;top:990px;width:35px;color:#000">96</div>
<div class="t r" style="left:43px;top:990px;width:112px;color:#2a1200">Texas</div>
<div class="t r" style="left:159px;top:990px;width:247px;color:#2a1200">Crockett County</div>
<div class="t c" style="left:410px;top:990px;width:45px;color:#2a1200">R</div>
<div class="t r" style="left:456px;top:990px;width:68px;color:#2a1200">3464</div>
<div class="t r" style="left:528px;top:990px;width:53px;color:#2a1200">166</div>
<div class="t r" style="left:585px;top:990px;width:59px;color:#2a1200">7</div>
<div class="t r" style="left:648px;top:990px;width:63px;color:#2a1200">47.921</div>
<div class="t r" style="left:715px;top:990px;width:59px;color:#2a1200">20.208</div>
<div style="left:43px;top:1009px;width:734px;height:19px;background:#fffa30"></div>
<div class="t b c" style="left:7px;top:1010px;width:35px;color:#000">97</div>
<div class="t r" style="left:43px;top:1010px;width:112px;color:#1a1400">South Carolina</div>
<div class="t r" style="left:159px;top:1010px;width:247px;color:#1a1400">Clarendon County</div>
<div class="t c" style="left:410px;top:1010px;width:45px;color:#1a1400">D (S)</div>
<div class="t r" style="left:456px;top:1010px;width:68px;color:#1a1400">33745</div>
<div class="t r" style="left:528px;top:1010px;width:53px;color:#1a1400">1155</div>
<div class="t r" style="left:585px;top:1010px;width:59px;color:#1a1400">68</div>
<div class="t r" style="left:648px;top:1010px;width:63px;color:#1a1400">34.227</div>
<div class="t r" style="left:715px;top:1010px;width:59px;color:#1a1400">20.151</div>
<div style="left:43px;top:1029px;width:734px;height:19px;background:#fcbb2d"></div>
<div class="t b c" style="left:7px;top:1030px;width:35px;color:#000">98</div>
<div class="t r" style="left:43px;top:1030px;width:112px;color:#2a1200">Kansas</div>
<div class="t r" style="left:159px;top:1030px;width:247px;color:#2a1200">Clark County</div>
<div class="t c" style="left:410px;top:1030px;width:45px;color:#2a1200">R</div>
<div class="t r" style="left:456px;top:1030px;width:68px;color:#2a1200">1994</div>
<div class="t r" style="left:528px;top:1030px;width:53px;color:#2a1200">63</div>
<div class="t r" style="left:585px;top:1030px;width:59px;color:#2a1200">4</div>
<div class="t r" style="left:648px;top:1030px;width:63px;color:#2a1200">31.595</div>
<div class="t r" style="left:715px;top:1030px;width:59px;color:#2a1200">20.060</div>
<div style="left:43px;top:1049px;width:734px;height:19px;background:#fcbb2d"></div>
<div class="t b c" style="left:7px;top:1050px;width:35px;color:#000">99</div>
<div class="t r" style="left:43px;top:1050px;width:112px;color:#2a1200">Michigan</div>
<div class="t r" style="left:159px;top:1050px;width:247px;color:#2a1200">Iron County</div>
<div class="t c" style="left:410px;top:1050px;width:45px;color:#2a1200">R</div>
<div class="t r" style="left:456px;top:1050px;width:68px;color:#2a1200">11066</div>
<div class="t r" style="left:528px;top:1050px;width:53px;color:#2a1200">421</div>
<div class="t r" style="left:585px;top:1050px;width:59px;color:#2a1200">22</div>
<div class="t r" style="left:648px;top:1050px;width:63px;color:#2a1200">38.044</div>
<div class="t r" style="left:715px;top:1050px;width:59px;color:#2a1200">19.881</div>
<div style="left:43px;top:1069px;width:734px;height:19px;background:#1eaeee"></div>
<div class="t b c" style="left:7px;top:1070px;width:35px;color:#000">100</div>
<div class="t r" style="left:43px;top:1070px;width:112px;color:#041e3c">Mississippi</div>
<div class="t r" style="left:159px;top:1070px;width:247px;color:#041e3c">Humphreys County</div>
<div class="t c" style="left:410px;top:1070px;width:45px;color:#041e3c">D</div>
<div class="t r" style="left:456px;top:1070px;width:68px;color:#041e3c">8064</div>
<div class="t r" style="left:528px;top:1070px;width:53px;color:#041e3c">438</div>
<div class="t r" style="left:585px;top:1070px;width:59px;color:#041e3c">16</div>
<div class="t r" style="left:648px;top:1070px;width:63px;color:#041e3c">54.315</div>
<div class="t r" style="left:715px;top:1070px;width:59px;color:#041e3c">19.841</div>
<div class="l" style="left:6px;top:6px;width:1px;height:1083px"></div>
<div class="l" style="left:777px;top:6px;width:1px;height:1083px"></div>
<div class="l" style="left:42px;top:46px;width:1px;height:1043px"></div>
<div class="l" style="left:158px;top:46px;width:1px;height:1043px"></div>
<div class="l" style="left:409px;top:46px;width:1px;height:1043px"></div>
<div class="l" style="left:455px;top:46px;width:1px;height:1043px"></div>
<div class="l" style="left:527px;top:46px;width:1px;height:1043px"></div>
<div class="l" style="left:584px;top:46px;width:1px;height:1043px"></div>
<div class="l" style="left:647px;top:46px;width:1px;height:1043px"></div>
<div class="l" style="left:714px;top:46px;width:1px;height:1043px"></div>
<div class="l" style="left:6px;top:6px;width:772px;height:1px"></div>
<div class="l" style="left:6px;top:46px;width:772px;height:1px"></div>
<div class="l" style="left:6px;top:88px;width:772px;height:1px"></div>
<div class="l" style="left:6px;top:108px;width:772px;height:1px"></div>
<div class="l" style="left:6px;top:128px;width:772px;height:1px"></div>
<div class="l" style="left:6px;top:148px;width:772px;height:1px"></div>
<div class="l" style="left:6px;top:168px;width:772px;height:1px"></div>
<div class="l" style="left:6px;top:188px;width:772px;height:1px"></div>
<div class="l" style="left:6px;top:208px;width:772px;height:1px"></div>
<div class="l" style="left:6px;top:228px;width:772px;height:1px"></div>
<div class="l" style="left:6px;top:248px;width:772px;height:1px"></div>
<div class="l" style="left:6px;top:268px;width:772px;height:1px"></div>
<div class="l" style="left:6px;top:288px;width:772px;height:1px"></div>
<div class="l" style="left:6px;top:308px;width:772px;height:1px"></div>
<div class="l" style="left:6px;top:328px;width:772px;height:1px"></div>
<div class="l" style="left:6px;top:348px;width:772px;height:1px"></div>
<div class="l" style="left:6px;top:368px;width:772px;height:1px"></div>
<div class="l" style="left:6px;top:388px;width:772px;height:1px"></div>
<div class="l" style="left:6px;top:408px;width:772px;height:1px"></div>
<div class="l" style="left:6px;top:428px;width:772px;height:1px"></div>
<div class="l" style="left:6px;top:448px;width:772px;height:1px"></div>
<div class="l" style="left:6px;top:468px;width:772px;height:1px"></div>
<div class="l" style="left:6px;top:488px;width:772px;height:1px"></div>
<div class="l" style="left:6px;top:508px;width:772px;height:1px"></div>
<div class="l" style="left:6px;top:528px;width:772px;height:1px"></div>
<div class="l" style="left:6px;top:548px;width:772px;height:1px"></div>
<div class="l" style="left:6px;top:568px;width:772px;height:1px"></div>
<div class="l" style="left:6px;top:588px;width:772px;height:1px"></div>
<div class="l" style="left:6px;top:608px;width:772px;height:1px"></div>
<div class="l" style="left:6px;top:628px;width:772px;height:1px"></div>
<div class="l" style="left:6px;top:648px;width:772px;height:1px"></div>
<div class="l" style="left:6px;top:668px;width:772px;height:1px"></div>
<div class="l" style="left:6px;top:688px;width:772px;height:1px"></div>
<div class="l" style="left:6px;top:708px;width:772px;height:1px"></div>
<div class="l" style="left:6px;top:728px;width:772px;height:1px"></div>
<div class="l" style="left:6px;top:748px;width:772px;height:1px"></div>
<div class="l" style="left:6px;top:768px;width:772px;height:1px"></div>
<div class="l" style="left:6px;top:788px;width:772px;height:1px"></div>
<div class="l" style="left:6px;top:808px;width:772px;height:1px"></div>
<div class="l" style="left:6px;top:828px;width:772px;height:1px"></div>
<div class="l" style="left:6px;top:848px;width:772px;height:1px"></div>
<div class="l" style="left:6px;top:868px;width:772px;height:1px"></div>
<div class="l" style="left:6px;top:888px;width:772px;height:1px"></div>
<div class="l" style="left:6px;top:908px;width:772px;height:1px"></div>
<div class="l" style="left:6px;top:928px;width:772px;height:1px"></div>
<div class="l" style="left:6px;top:948px;width:772px;height:1px"></div>
<div class="l" style="left:6px;top:968px;width:772px;height:1px"></div>
<div class="l" style="left:6px;top:988px;width:772px;height:1px"></div>
<div class="l" style="left:6px;top:1008px;width:772px;height:1px"></div>
<div class="l" style="left:6px;top:1028px;width:772px;height:1px"></div>
<div class="l" style="left:6px;top:1048px;width:772px;height:1px"></div>
<div class="l" style="left:6px;top:1068px;width:772px;height:1px"></div>
<div class="l" style="left:6px;top:1088px;width:772px;height:1px"></div>
</body></html>
